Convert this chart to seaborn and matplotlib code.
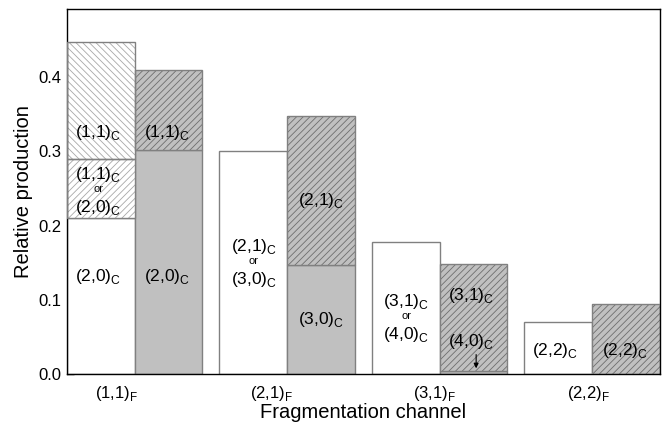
import numpy as np
import pandas as pd
import matplotlib
matplotlib.use('Agg')
import matplotlib.pyplot as plt
import seaborn as sns

# fragmentation channels (x categories)
channels = ['(1,1)', '(2,1)', '(3,1)', '(2,2)']
tick_pos = [-0.12, 0.90, 1.97, 2.98]

# experiment (left bars): solid white base, then hatched parts
exp_base = [0.21, 0.30, 0.178, 0.070]
exp_mid = [0.08, 0.0, 0.0, 0.0]      # (1,1)C or (2,0)C, ///
exp_top = [0.158, 0.0, 0.0, 0.0]     # (1,1)C, \\\

# theory (right bars): solid gray base, then hatched part
th_base = [0.302, 0.147, 0.004, 0.0]
th_top = [0.108, 0.201, 0.144, 0.094]

sns.set_style('white')
plt.rcParams['font.family'] = ['Liberation Sans', 'DejaVu Sans']
plt.rcParams['mathtext.fontset'] = 'custom'
plt.rcParams['mathtext.rm'] = 'Liberation Sans'
plt.rcParams['hatch.linewidth'] = 0.6
for k in ['text.color', 'axes.labelcolor', 'xtick.color', 'ytick.color']:
    plt.rcParams[k] = 'black'

EDGE = '#808080'
GRAY = '#c0c0c0'

df = pd.DataFrame({
    'channel': channels * 2,
    'source': ['exp'] * 4 + ['theory'] * 4,
    'value': exp_base + th_base,
})

fig = plt.figure(figsize=(6.67, 4.28), dpi=100)
ax = fig.add_axes([0.1005, 0.126, 0.8885, 0.853])

W = 0.888
sns.barplot(data=df, x='channel', y='value', hue='source', order=channels,
            hue_order=['exp', 'theory'], palette={'exp': 'white', 'theory': GRAY},
            width=W, gap=0, edgecolor=EDGE, linewidth=1, legend=False, ax=ax)

w = W / 2
idx = np.arange(len(channels))
x_exp = idx - w / 2
x_th = idx + w / 2


def hatched(x, h, bottom, face, hcol, hatch):
    h = np.asarray(h)
    bottom = np.asarray(bottom)
    keep = h > 0
    ax.bar(x[keep], h[keep], bottom=bottom[keep], width=w, color=face,
           edgecolor=hcol, hatch=hatch, linewidth=0, zorder=2)
    ax.bar(x[keep], h[keep], bottom=bottom[keep], width=w, fill=False,
           edgecolor=EDGE, linewidth=1, zorder=3)


hatched(x_exp, exp_mid, exp_base, 'white', '#a8a8a8', '/////')
hatched(x_exp, exp_top, np.add(exp_base, exp_mid), 'white', '#a8a8a8', '\\\\\\\\\\')
hatched(x_th, th_top, th_base, GRAY, '#6e6e6e', '/////')

# annotations
C = '$_{\\mathregular{C}}$'
fs = 12.5


def lab(x, y, name):
    ax.text(x, y, name + C, fontsize=fs, ha='center', va='center', zorder=5)


def lab_or(x, y, a, b, dy=0.0225):
    lab(x, y + dy, a)
    ax.text(x, y + 0.003, 'or', fontsize=8, ha='center', va='center', zorder=5)
    lab(x, y - dy, b)


lab(-0.24, 0.325, '(1,1)')
lab_or(-0.24, 0.247, '(1,1)', '(2,0)')
lab(-0.24, 0.132, '(2,0)')
lab(0.21, 0.325, '(1,1)')
lab(0.21, 0.132, '(2,0)')
lab_or(0.78, 0.150, '(2,1)', '(3,0)')
lab(1.22, 0.234, '(2,1)')
lab(1.22, 0.073, '(3,0)')
lab_or(1.78, 0.0755, '(3,1)', '(4,0)')
lab(2.21, 0.106, '(3,1)')
lab(2.21, 0.044, '(4,0)')
ax.annotate('', xy=(2.24, 0.004), xytext=(2.24, 0.03),
            arrowprops=dict(arrowstyle='-|>', color='black', lw=0.8,
                            mutation_scale=7), zorder=5)
lab(2.76, 0.032, '(2,2)')
lab(3.22, 0.032, '(2,2)')

ax.set_xlim(-w, 3 + w)
ax.set_ylim(0, 0.492)
ax.set_xticks(tick_pos)
ax.set_xticklabels([c + '$_{\\mathregular{F}}$' for c in channels], fontsize=12)
ax.set_yticks([0.0, 0.1, 0.2, 0.3, 0.4])
ax.set_yticks(np.arange(0.05, 0.44, 0.1), minor=True)
ax.set_yticklabels(['0.0', '0.1', '0.2', '0.3', '0.4'], fontsize=12)
ax.tick_params(axis='x', length=0, pad=7)
ax.tick_params(axis='y', which='major', direction='in', length=5, width=1, pad=4, left=True)
ax.tick_params(axis='y', which='minor', direction='in', length=3, width=1, left=True)
ax.set_xlabel('Fragmentation channel', fontsize=14.5, labelpad=0)
ax.set_ylabel('Relative production', fontsize=14.5, labelpad=4)
for s in ax.spines.values():
    s.set_color('black')
    s.set_linewidth(1)

fig.savefig('out.png', dpi=100)
